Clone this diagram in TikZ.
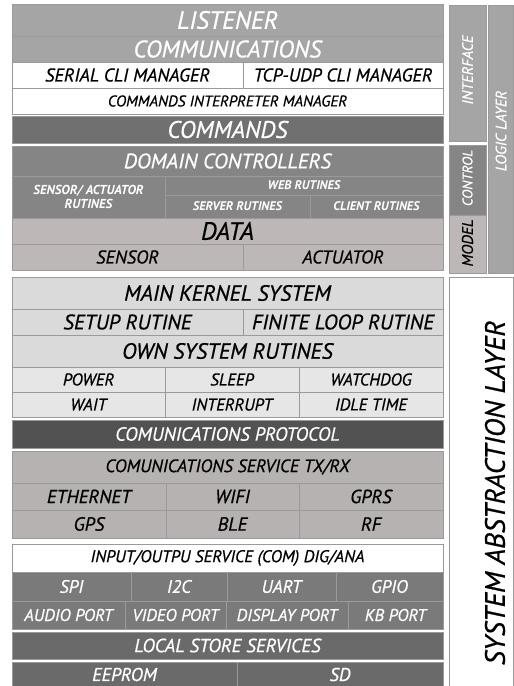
\documentclass[tikz,border=0pt]{standalone}
\usepackage{fontspec}
\setmainfont{PT Sans}[ItalicFeatures={FakeBold=0.6}]
\definecolor{bordergray}{HTML}{9A9A9A}
\definecolor{cA}{HTML}{A5A5A5}
\definecolor{cB}{HTML}{707070}
\definecolor{cC}{HTML}{858585}
\definecolor{cD}{HTML}{BDB7B7}
\definecolor{cE}{HTML}{DADADA}
\definecolor{cF}{HTML}{E6E6E6}
\definecolor{cG}{HTML}{525252}
\definecolor{cH}{HTML}{B7B2B2}
\definecolor{cI}{HTML}{7A7A7A}
\definecolor{cJ}{HTML}{6A6A6A}
\newcommand{\fsz}[1]{\fontsize{#1}{#1}\selectfont}
\newcommand{\bx}[7]{\node[cell,#6,minimum width={#4pt-#2pt},minimum height={#5pt-#3pt}] (#1) at ({(#2+#4)/2},{(#3+#5)/2}) {#7};}
\tikzset{
  cell/.style={draw=bordergray, line width=0.8pt, inner sep=0pt, outer sep=0pt, font=\itshape, align=center},
  wt/.style={text=white},
  bk/.style={text=black},
  rot/.style={rotate=90, inner sep=0pt, font=\itshape},
}
\begin{document}
\begin{tikzpicture}[x=1pt,y=-1pt]
\useasboundingbox[fill=white] (0,0) rectangle (514,686);
\begin{scope}
\clip (0,0) rectangle (514,686);
% group 1
\bx{listener}{12}{4}{443}{36}{fill=cA,wt}{\fsz{25}LISTENER}
\bx{comms}{12}{36}{443}{62}{fill=cA,wt}{\fsz{24}COMMUNICATIONS}
\bx{serial}{12}{62}{243}{88}{fill=white,bk}{\fsz{18.5}SERIAL CLI MANAGER}
\bx{tcp}{243}{62}{443}{88}{fill=white,bk}{\fsz{18.5}TCP-UDP CLI MANAGER}
\bx{interp}{12}{88}{443}{114}{fill=white,bk}{\fsz{15.5}COMMANDS INTERPRETER MANAGER}
% group 2
\bx{commands}{12}{116}{443}{143}{fill=cB,wt}{\fsz{24}COMMANDS}
% group 3
\bx{domain}{12}{146}{443}{176}{fill=cC,wt}{\fsz{21}DOMAIN CONTROLLERS}
\bx{sensact}{12}{176}{165}{218}{fill=cC,wt}{\fsz{13}\bfseries SENSOR/ ACTUATOR\\[2pt]\fsz{13}\bfseries RUTINES}
\bx{web}{165}{176}{443}{195}{fill=cC,wt}{\fsz{12.5}\bfseries WEB RUTINES}
\bx{server}{165}{195}{310}{218}{fill=cC,wt}{\fsz{12.5}\bfseries SERVER RUTINES}
\bx{client}{310}{195}{443}{218}{fill=cC,wt}{\fsz{12.5}\bfseries CLIENT RUTINES}
\bx{data}{12}{218}{443}{244}{fill=cD,bk}{\fsz{25}DATA}
\bx{sensor}{12}{244}{243}{270}{fill=cD,bk}{\fsz{18.5}SENSOR}
\bx{actuator}{243}{244}{443}{270}{fill=cD,bk}{\fsz{18.5}ACTUATOR}
% right column
\bx{interface}{449}{5}{486}{141}{fill=cA}{}
\bx{control}{449}{145}{486}{215}{fill=cC}{}
\bx{model}{449}{215}{486}{273}{fill=cD}{}
\bx{logic}{488}{5}{513}{273}{fill=cA}{}
\bx{sal}{449}{277}{513}{690}{fill=white}{}
\node[rot,text=white,font=\itshape\fsz{15}] (interfacet) at (467.5,70) {INTERFACE};
\node[rot,text=white,font=\itshape\fsz{14}] (controlt) at (467.5,178) {CONTROL};
\node[rot,text=black,font=\itshape\fsz{15.5}] (modelt) at (467.5,243) {MODEL};
\node[rot,text=white,font=\itshape\fsz{15}] (logict) at (501,131) {LOGIC LAYER};
\node[rot,text=black,font=\itshape\fsz{28}] (salt) at (495,493) {SYSTEM ABSTRACTION LAYER};
% group 4
\bx{kernel}{12}{277}{443}{309}{fill=cE,bk}{\fsz{22}MAIN KERNEL SYSTEM}
\bx{setup}{12}{309}{243}{335}{fill=cE,bk}{\fsz{21}SETUP RUTINE}
\bx{finite}{243}{309}{443}{335}{fill=cE,bk}{\fsz{21}FINITE LOOP RUTINE}
\bx{own}{12}{335}{443}{367}{fill=cE,bk}{\fsz{22}OWN SYSTEM RUTINES}
\bx{power}{12}{367}{165}{392}{fill=cF,bk}{\fsz{17}POWER}
\bx{sleep}{165}{367}{299}{392}{fill=cF,bk}{\fsz{17}SLEEP}
\bx{watchdog}{299}{367}{443}{392}{fill=cF,bk}{\fsz{17}WATCHDOG}
\bx{wait}{12}{392}{165}{417}{fill=cF,bk}{\fsz{17}WAIT}
\bx{interrupt}{165}{392}{299}{417}{fill=cF,bk}{\fsz{17}INTERRUPT}
\bx{idle}{299}{392}{443}{417}{fill=cF,bk}{\fsz{17}IDLE TIME}
% group 5
\bx{protocol}{12}{420}{443}{448}{fill=cG,wt}{\fsz{19}COMUNICATIONS PROTOCOL}
% group 6
\bx{service}{12}{451}{443}{483}{fill=cH,bk}{\fsz{18}COMUNICATIONS SERVICE TX/RX}
\bx{eth}{12}{483}{166}{510}{fill=cH,bk}{\fsz{19}ETHERNET}
\bx{wifi}{166}{483}{299}{510}{fill=cH,bk}{\fsz{19}WIFI}
\bx{gprs}{299}{483}{443}{510}{fill=cH,bk}{\fsz{19}GPRS}
\bx{gps}{12}{510}{166}{538}{fill=cH,bk}{\fsz{19}GPS}
\bx{ble}{166}{510}{299}{538}{fill=cH,bk}{\fsz{19}BLE}
\bx{rf}{299}{510}{443}{538}{fill=cH,bk}{\fsz{19}RF}
% group 7
\bx{io}{12}{544}{443}{572}{fill=white,bk}{\fsz{17}INPUT/OUTPU SERVICE (COM) DIG/ANA}
% group 8
\bx{spi}{12}{572}{131}{601}{fill=cI,wt}{\fsz{18}SPI}
\bx{i2c}{131}{572}{227}{601}{fill=cI,wt}{\fsz{18}I2C}
\bx{uart}{227}{572}{336}{601}{fill=cI,wt}{\fsz{18}UART}
\bx{gpio}{336}{572}{443}{601}{fill=cI,wt}{\fsz{18}GPIO}
\bx{audio}{12}{601}{125}{629}{fill=cI,wt}{\fsz{17}AUDIO PORT}
\bx{video}{125}{601}{226}{629}{fill=cI,wt}{\fsz{17}VIDEO PORT}
\bx{display}{226}{601}{348}{629}{fill=cI,wt}{\fsz{17}DISPLAY PORT}
\bx{kb}{348}{601}{443}{629}{fill=cI,wt}{\fsz{17}KB PORT}
% group 9
\bx{local}{12}{632}{443}{659}{fill=cJ,wt}{\fsz{19}LOCAL STORE SERVICES}
% group 10
\bx{eeprom}{12}{662}{237}{687}{fill=cJ,wt}{\fsz{18.5}EEPROM}
\bx{sd}{237}{662}{443}{687}{fill=cJ,wt}{\fsz{18.5}SD}
\end{scope}
\end{tikzpicture}
\end{document}
